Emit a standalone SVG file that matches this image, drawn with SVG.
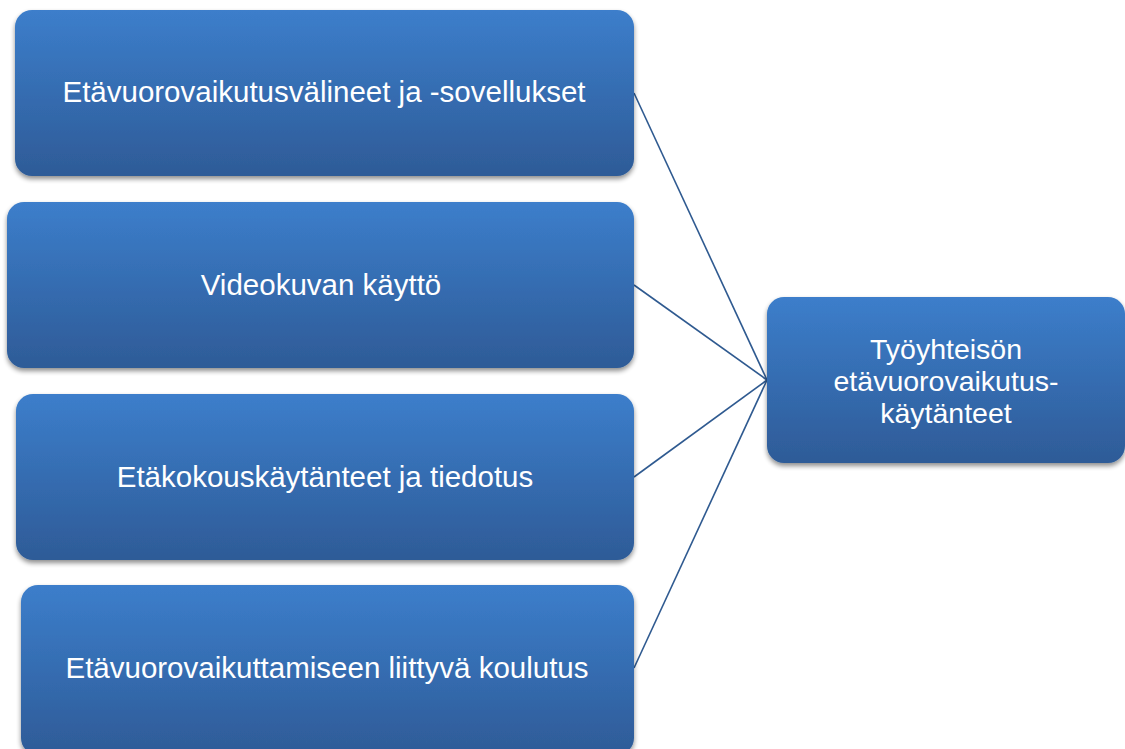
<svg xmlns="http://www.w3.org/2000/svg" width="1125" height="749" viewBox="0 0 1125 749">
<defs>
<linearGradient id="g" x1="0" y1="0" x2="0" y2="1">
<stop offset="0" stop-color="#3C7ECB"/>
<stop offset="1" stop-color="#2E5B97"/>
</linearGradient>
<filter id="sh" x="-5%" y="-10%" width="110%" height="125%">
<feGaussianBlur in="SourceAlpha" stdDeviation="2.5"/>
<feOffset dx="0" dy="3" result="b"/>
<feComponentTransfer><feFuncA type="linear" slope="0.45"/></feComponentTransfer>
<feMerge><feMergeNode/><feMergeNode in="SourceGraphic"/></feMerge>
</filter>
</defs>
<style>
.box{fill:url(#g);filter:url(#sh);}
.t{font-family:"Liberation Sans",Arial,sans-serif;font-size:29.5px;fill:#fff;text-anchor:middle;}
.t2{font-family:"Liberation Sans",Arial,sans-serif;font-size:28.5px;fill:#fff;text-anchor:middle;}
.c{stroke:#2F5A90;stroke-width:1.6;fill:none;}
</style>
<rect width="1125" height="749" fill="#fff"/>
<g id="connectors">
<line class="c" x1="634" y1="93" x2="767" y2="380"/>
<line class="c" x1="634" y1="285" x2="767" y2="380"/>
<line class="c" x1="634" y1="477" x2="767" y2="380"/>
<line class="c" x1="634" y1="668" x2="767" y2="380"/>
</g>
<g id="n1">
<rect class="box" x="15" y="10" width="619" height="166" rx="17"/>
<text class="t" x="324" y="102">Etävuorovaikutusvälineet ja -sovellukset</text>
</g>
<g id="n2">
<rect class="box" x="7" y="202" width="627" height="166" rx="17"/>
<text class="t" x="321" y="295">Videokuvan käyttö</text>
</g>
<g id="n3">
<rect class="box" x="16" y="394" width="618" height="166" rx="17"/>
<text class="t" x="325" y="487">Etäkokouskäytänteet ja tiedotus</text>
</g>
<g id="n4">
<rect class="box" x="21" y="585" width="613" height="170" rx="17"/>
<text class="t" x="327" y="678">Etävuorovaikuttamiseen liittyvä koulutus</text>
</g>
<g id="n5">
<rect class="box" x="767" y="297" width="358" height="166" rx="17"/>
<text class="t2"><tspan x="946" y="359">Työyhteisön</tspan><tspan x="946" y="391">etävuorovaikutus-</tspan><tspan x="946" y="423">käytänteet</tspan></text>
</g>
</svg>
